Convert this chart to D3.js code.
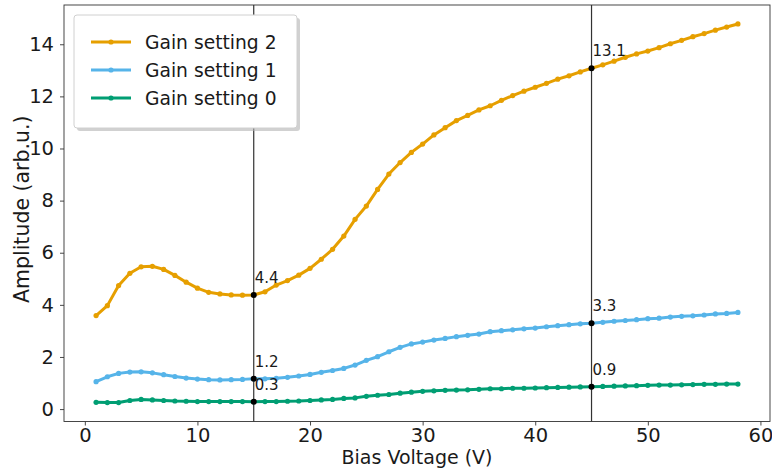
<!DOCTYPE html>
<html>
<head>
<meta charset="utf-8">
<script src="https://cdn.jsdelivr.net/npm/d3@7"></script>
<style>
  html, body { margin: 0; padding: 0; background: #fff; }
  svg { display: block; font-family: "DejaVu Sans", sans-serif; }
</style>
</head>
<body>
<svg id="chart" width="772" height="468"></svg>
<script>
// Bias voltage sweep (V)
const biasVoltage = d3.range(1, 59);

// Measured amplitude per gain setting (arb.u.)
const gain2 = [3.59, 3.97, 4.74, 5.21, 5.46, 5.48, 5.36, 5.13, 4.87, 4.64,
               4.48, 4.42, 4.38, 4.37, 4.38, 4.50, 4.76, 4.93, 5.14, 5.40,
               5.75, 6.13, 6.64, 7.28, 7.79, 8.43, 9.02, 9.46, 9.85, 10.17,
               10.52, 10.80, 11.07, 11.27, 11.48, 11.64, 11.85, 12.03, 12.20, 12.35,
               12.50, 12.66, 12.79, 12.94, 13.08, 13.21, 13.35, 13.50, 13.63, 13.74,
               13.87, 14.02, 14.15, 14.29, 14.41, 14.54, 14.66, 14.78];
const gain1 = [1.05, 1.24, 1.37, 1.42, 1.43, 1.39, 1.32, 1.25, 1.19, 1.15,
               1.13, 1.12, 1.13, 1.14, 1.16, 1.16, 1.18, 1.22, 1.27, 1.33,
               1.41, 1.48, 1.56, 1.69, 1.87, 2.01, 2.20, 2.37, 2.50, 2.57,
               2.65, 2.71, 2.78, 2.83, 2.88, 2.97, 3.01, 3.04, 3.08, 3.11,
               3.16, 3.20, 3.24, 3.27, 3.29, 3.33, 3.37, 3.40, 3.43, 3.47,
               3.49, 3.53, 3.56, 3.58, 3.61, 3.65, 3.67, 3.71];
const gain0 = [0.26, 0.25, 0.25, 0.33, 0.37, 0.35, 0.33, 0.31, 0.30, 0.29,
               0.29, 0.29, 0.29, 0.29, 0.28, 0.29, 0.29, 0.30, 0.31, 0.33,
               0.35, 0.37, 0.41, 0.43, 0.49, 0.53, 0.56, 0.61, 0.65, 0.68,
               0.70, 0.72, 0.73, 0.74, 0.76, 0.78, 0.78, 0.80, 0.80, 0.81,
               0.82, 0.83, 0.84, 0.85, 0.86, 0.87, 0.88, 0.89, 0.90, 0.91,
               0.92, 0.92, 0.93, 0.94, 0.95, 0.95, 0.96, 0.96];

const seriesNames = ["Gain setting 2", "Gain setting 1", "Gain setting 0"];
const seriesColors = ["#E69F00", "#56B4E9", "#009E73"];
const seriesValues = [gain2, gain1, gain0];

// Voltages marked with a reference line and value labels
const markedVoltages = [15, 45];

const xTicks = [0, 10, 20, 30, 40, 50, 60];
const yTicks = [0, 2, 4, 6, 8, 10, 12, 14];

const svg = d3.select("#chart");
const plot = { left: 64, right: 770, top: 5, bottom: 421.5 };

// Domains padded by 5% of the data range on each side
const xExt = d3.extent(biasVoltage);
const xPad = (xExt[1] - xExt[0]) * 0.05;
const yAll = seriesValues.flat();
const yExt = d3.extent(yAll);
const yPad = (yExt[1] - yExt[0]) * 0.05;

const x = d3.scaleLinear().domain([xExt[0] - xPad, xExt[1] + xPad]).range([plot.left, plot.right]);
const y = d3.scaleLinear().domain([yExt[0] - yPad, yExt[1] + yPad]).range([plot.bottom, plot.top]);

// Axes
const xAxis = svg.append("g")
  .attr("transform", `translate(0,${plot.bottom})`)
  .call(d3.axisBottom(x).tickValues(xTicks).tickSize(4).tickPadding(3).tickFormat(d3.format("d")));
const yAxis = svg.append("g")
  .attr("transform", `translate(${plot.left},0)`)
  .call(d3.axisLeft(y).tickValues(yTicks).tickSize(4).tickPadding(6).tickFormat(d3.format("d")));
[xAxis, yAxis].forEach(g => {
  g.select(".domain").remove();
  g.selectAll(".tick line").attr("stroke", "#333").attr("stroke-width", 0.9);
  g.selectAll(".tick text").attr("fill", "#1a1a1a").style("font-size", "19.5px")
    .style("font-family", "'DejaVu Sans', sans-serif");
});

// Frame
svg.append("rect")
  .attr("x", plot.left).attr("y", plot.top)
  .attr("width", plot.right - plot.left).attr("height", plot.bottom - plot.top)
  .attr("fill", "none").attr("stroke", "#333").attr("stroke-width", 0.9);

// Axis titles
svg.append("text")
  .attr("x", (plot.left + plot.right) / 2).attr("y", 464)
  .attr("text-anchor", "middle").attr("fill", "#1a1a1a").style("font-size", "19px")
  .text("Bias Voltage (V)");
svg.append("text")
  .attr("transform", `translate(28.5,${(plot.top + plot.bottom) / 2 - 4}) rotate(-90)`)
  .attr("text-anchor", "middle").attr("fill", "#1a1a1a").style("font-size", "20.5px")
  .text("Amplitude (arb.u.)");

// Reference lines
svg.append("g").selectAll("line").data(markedVoltages).join("line")
  .attr("x1", d => x(d)).attr("x2", d => x(d))
  .attr("y1", plot.top).attr("y2", plot.bottom)
  .attr("stroke", "#333").attr("stroke-width", 1.2);

// Series lines with point markers
const line = d3.line()
  .x((d, i) => x(biasVoltage[i]))
  .y(d => y(d));

seriesValues.forEach((vals, k) => {
  const g = svg.append("g");
  g.append("path")
    .datum(vals)
    .attr("d", line)
    .attr("fill", "none")
    .attr("stroke", seriesColors[k])
    .attr("stroke-width", 3)
    .attr("stroke-linejoin", "round")
    .attr("stroke-linecap", "round");
  g.selectAll("circle").data(vals).join("circle")
    .attr("cx", (d, i) => x(biasVoltage[i]))
    .attr("cy", d => y(d))
    .attr("r", 2.6)
    .attr("fill", seriesColors[k]);
});

// Value markers and labels at the reference voltages
const marks = [];
markedVoltages.forEach(v => {
  const i = biasVoltage.indexOf(v);
  seriesValues.forEach(vals => marks.push({ v, val: vals[i] }));
});
const mg = svg.append("g");
mg.selectAll("circle").data(marks).join("circle")
  .attr("cx", d => x(d.v)).attr("cy", d => y(d.val))
  .attr("r", 3).attr("fill", "#000");
mg.selectAll("text").data(marks).join("text")
  .attr("x", d => x(d.v) + 1).attr("y", d => y(d.val) - 12)
  .attr("fill", "#1a1a1a").style("font-size", "15px")
  .text(d => d.val.toFixed(1));

// Legend
const legend = svg.append("g").attr("transform", "translate(74,15)");
legend.append("rect")
  .attr("x", 3).attr("y", 3).attr("width", 223).attr("height", 113).attr("rx", 3)
  .attr("fill", "#b3b3b3").attr("opacity", 0.6);
legend.append("rect")
  .attr("x", 0).attr("y", 0).attr("width", 223).attr("height", 113).attr("rx", 3)
  .attr("fill", "#fff").attr("stroke", "#d0d0d0").attr("stroke-width", 1);
seriesNames.forEach((name, k) => {
  const row = legend.append("g").attr("transform", `translate(0,${27 + k * 28})`);
  row.append("line").attr("x1", 17).attr("x2", 57).attr("y1", 0).attr("y2", 0)
    .attr("stroke", seriesColors[k]).attr("stroke-width", 3);
  row.append("circle").attr("cx", 37).attr("cy", 0).attr("r", 2.6).attr("fill", seriesColors[k]);
  row.append("text").attr("x", 71).attr("y", 6.8)
    .attr("fill", "#1a1a1a").style("font-size", "18.7px").text(name);
});
</script>
</body>
</html>
